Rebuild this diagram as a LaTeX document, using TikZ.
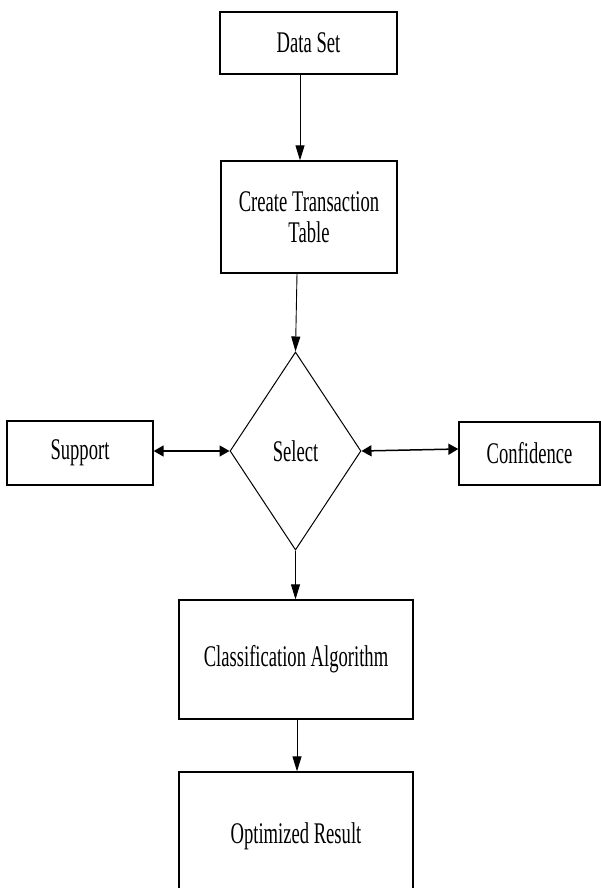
\documentclass[tikz,border=0pt]{standalone}
\usepackage{fontspec}
\setmainfont{Liberation Serif}[FakeStretch=0.62]
\usetikzlibrary{shapes.geometric,arrows.meta}
\begin{document}
\begin{tikzpicture}[x=1pt,y=-1pt,
  box/.style={draw, line width=1.3pt, inner sep=0pt, align=center, font=\fontsize{30}{31}\selectfont},
  arr/.style={line width=0.9pt, -{Triangle[length=15pt,width=9pt]}},
  darr/.style={line width=1.5pt, {Triangle[length=10pt,width=11pt]}-{Triangle[length=10pt,width=11pt]}}]
\useasboundingbox (0,0) rectangle (601,888);
\clip (0,0) rectangle (601,888);
\fill[white] (0,0) rectangle (601,888);
\node[box, minimum width=177pt, minimum height=62pt] (ds) at (308.5,43) {Data Set};
\node[box, minimum width=176pt, minimum height=112pt] (ctt) at (309,217) {Create Transaction\\Table};
\node[box, diamond, line width=1pt, minimum width=131pt, minimum height=198pt] (dia) at (295.5,451) {Select};
\node[box, minimum width=146pt, minimum height=64pt] (sup) at (80,453) {Support};
\node[box, minimum width=141pt, minimum height=63pt] (conf) at (529.5,453.5) {Confidence};
\node[box, minimum width=234pt, minimum height=119pt] (ca) at (296,659.5) {Classification Algorithm};
\node[box, minimum width=234pt, minimum height=128pt] (or) at (296,836) {Optimized Result};
\draw[arr] ([xshift=-8.5pt]ds.south) -- ([xshift=-9pt]ctt.north);
\draw[arr] ([xshift=-12pt]ctt.south) -- (dia.north);
\draw[arr] (dia.south) -- (dia.south |- ca.north);
\draw[arr] ([xshift=1pt]ca.south) -- ([xshift=1pt]or.north);
\draw[darr] ([yshift=2pt]sup.east) -- (dia.west);
\draw[darr] (dia.east) -- ([yshift=4.5pt]conf.west);
\end{tikzpicture}
\end{document}
